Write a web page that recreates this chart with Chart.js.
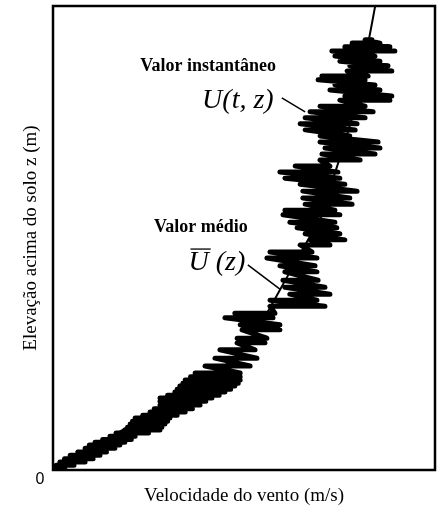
<!DOCTYPE html>
<html>
<head>
<meta charset="utf-8">
<script src="https://cdn.jsdelivr.net/npm/chart.js@4/dist/chart.umd.min.js"></script>
<style>
  html, body { margin: 0; padding: 0; background: #fff; }
  #wrap { width: 439px; height: 509px; }
</style>
</head>
<body>
<div id="wrap"><canvas id="wind-chart"></canvas></div>
<script>
// instantaneous trace: at each height the gust swings between a low and a high speed
const heightRows = [0.4, 1.0, 1.7, 2.4, 3.2, 3.9, 4.7, 5.4, 6.0, 6.6, 7.3, 8.0, 8.6, 9.2, 9.9, 10.5,
  11.2, 11.8, 12.5, 13.2, 14.0, 14.8, 15.5, 16.1, 16.8, 17.4, 18.1, 18.7, 19.4, 20.1, 20.9,
  22.4, 24.1, 25.9, 27.4, 28.4, 30.2, 31.3, 32.8, 33.8, 35.3, 36.6, 37.9, 39.4, 40.9, 42.7, 44.0,
  45.7, 47.0, 48.5, 49.6, 50.9, 52.2, 53.4, 55.0, 56.0, 57.3, 58.6, 60.1, 61.6, 62.9, 64.2, 65.5,
  66.8, 68.1, 69.4, 70.7, 72.0, 73.3, 74.6, 75.9, 77.2, 78.4, 79.7, 80.6, 81.9, 83.0, 84.1, 84.9,
  86.0, 87.1, 88.1, 89.2, 90.3, 91.2, 92.0, 92.7];
const gustLow = [0, 0.8, 1.8, 3.0, 4.5, 6.5, 8.4, 9.5, 11.0, 13.0, 14.9, 16.5, 18.8, 19.5, 20.2, 20.8,
  21.5, 23.5, 25.4, 26.5, 28.0, 28.0, 28.0, 30.0, 31.9, 32.5, 33.2, 34.0, 34.6, 36.0, 37.2,
  39.8, 42.4, 43.7, 48.2, 48.2, 49.5, 49.0, 45.0, 47.6, 56.8, 56.8, 62.0, 60.7, 60.2, 60.7, 59.4,
  56.0, 56.8, 64.7, 67.3, 66.0, 63.9, 62.0, 60.2, 60.7, 66.0, 65.4, 65.4, 64.7, 60.7, 59.4, 63.4,
  69.9, 70.4, 71.2, 69.9, 69.9, 66.0, 64.7, 66.0, 67.3, 69.9, 75.1, 76.4, 72.5, 73.8, 69.4, 70.4,
  77.0, 77.7, 75.1, 73.8, 73.0, 76.4, 78.3, 81.7];
const gustHigh = [3.1, 5.5, 8.4, 10.5, 12.3, 14.0, 16.2, 17.5, 18.8, 20.5, 21.5, 25.0, 28.0, 28.5, 29.3, 30.0,
  30.6, 32.5, 34.6, 36.5, 38.5, 40.0, 41.6, 43.5, 45.0, 46.5, 47.6, 48.5, 49.0, 49.0, 49.0,
  51.6, 53.4, 52.9, 55.5, 56.0, 59.4, 59.4, 57.6, 58.1, 71.2, 69.1, 72.5, 71.2, 69.4, 69.1, 68.6,
  69.1, 67.8, 72.5, 76.4, 75.1, 74.3, 73.8, 75.1, 73.8, 78.3, 77.7, 79.6, 76.4, 75.1, 74.6, 72.5,
  80.4, 84.3, 85.6, 85.1, 77.7, 79.1, 79.6, 81.7, 83.8, 81.7, 88.2, 88.7, 85.6, 84.3, 81.7, 82.5,
  88.7, 87.7, 85.6, 84.3, 89.5, 88.2, 85.6, 83.5];

// mean profile
const meanSpeed = [0, 12, 24, 36, 45, 51, 56, 59.4, 63.8, 67.8, 69.9, 71.2, 74.2, 76.7, 78.8, 80.6, 82.5, 84.3];
const meanHeight = [0, 5.6, 11.5, 17.6, 22.5, 27, 33.8, 38.8, 45.3, 51.1, 53.9, 57.5, 65, 71.5, 77.5, 85, 92, 99.8];

const xTitle = 'Velocidade do vento (m/s)';
const yTitle = 'Elevação acima do solo z (m)';
const originLabel = '0';

const tracePoints = [];
heightRows.forEach((h, i) => {
  tracePoints.push({ x: gustLow[i], y: h });
  tracePoints.push({ x: gustHigh[i], y: h });
});
const meanPoints = meanSpeed.map((u, i) => ({ x: u, y: meanHeight[i] }));

const serif = '"Liberation Serif", "Times New Roman", serif';

const framePlugin = {
  id: 'frame',
  afterDraw(chart) {
    const { ctx, chartArea: a, scales: { x, y } } = chart;
    const px = v => x.getPixelForValue(v);
    const py = v => y.getPixelForValue(v);
    ctx.save();
    ctx.strokeStyle = '#000';
    ctx.lineWidth = 2.5;
    ctx.strokeRect(a.left, a.top, a.right - a.left, a.bottom - a.top);

    ctx.fillStyle = '#000';
    ctx.textAlign = 'center';
    ctx.textBaseline = 'middle';
    ctx.font = '16px "Liberation Sans", Arial, sans-serif';
    ctx.fillText(originLabel, a.left - 13, a.bottom + 10);

    ctx.font = 'bold 18px ' + serif;
    ctx.fillText('Valor instantâneo', px(40.6), py(86.9));
    ctx.fillText('Valor médio', px(38.7), py(52.4));

    ctx.font = 'italic 28px ' + serif;
    ctx.fillText('U(t, z)', px(48.4), py(79.7));

    // U bar (z)
    const s = 'U (z)';
    const w = ctx.measureText(s).width;
    const cx = px(42.9), cy = py(44.6);
    ctx.fillText(s, cx, cy);
    const uw = ctx.measureText('U').width;
    ctx.lineWidth = 1.3;
    ctx.beginPath();
    ctx.moveTo(cx - w / 2 + 2, cy - 14);
    ctx.lineTo(cx - w / 2 + uw + 2, cy - 14);
    ctx.stroke();

    ctx.lineWidth = 1.5;
    ctx.beginPath();
    ctx.moveTo(px(59.9), py(80.2));
    ctx.lineTo(px(66.0), py(77.2));
    ctx.moveTo(px(51.0), py(44.2));
    ctx.lineTo(px(59.4), py(39.0));
    ctx.stroke();
    ctx.restore();
  }
};

new Chart(document.querySelector('#wind-chart').getContext('2d'), {
  type: 'line',
  data: {
    datasets: [
      {
        label: 'U(t,z)',
        data: tracePoints,
        borderColor: '#000',
        borderWidth: 5,
        borderJoinStyle: 'round',
        borderCapStyle: 'round',
        pointRadius: 0,
        tension: 0,
        fill: false
      },
      {
        label: 'Ū(z)',
        data: meanPoints,
        borderColor: '#000',
        borderWidth: 2,
        pointRadius: 0,
        tension: 0.3,
        fill: false
      }
    ]
  },
  options: {
    responsive: true,
    maintainAspectRatio: false,
    animation: false,
    layout: { padding: { top: 6, right: 4, left: 0, bottom: 0 } },
    plugins: { legend: { display: false }, tooltip: { enabled: false } },
    scales: {
      x: {
        type: 'linear', min: 0, max: 100,
        grid: { display: false, drawTicks: false },
        border: { display: false },
        ticks: { display: false },
        title: { display: true, text: xTitle, color: '#000',
          font: { family: serif, size: 19 }, padding: { top: 14.6, bottom: 1.6 } }
      },
      y: {
        type: 'linear', min: 0, max: 100,
        grid: { display: false, drawTicks: false },
        border: { display: false },
        ticks: { display: false },
        title: { display: true, text: yTitle, color: '#000',
          font: { family: serif, size: 19 }, padding: { top: 19.6, bottom: 10.6 } }
      }
    }
  },
  plugins: [framePlugin]
});
</script>
</body>
</html>
